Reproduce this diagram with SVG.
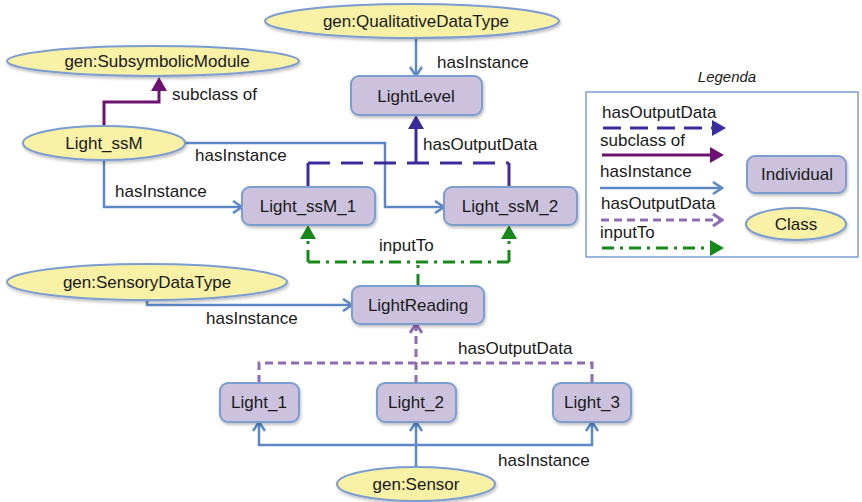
<svg xmlns="http://www.w3.org/2000/svg" width="862" height="502" viewBox="0 0 862 502">
<style>
text{font-family:"Liberation Sans",Arial,sans-serif;font-size:17px;fill:#1a1a1a}
.c{text-anchor:middle}
.ind{fill:#ccc2de;stroke:#7b9dd0;stroke-width:2}
.cls{fill:#f8f1a6;stroke:#7b9dd0;stroke-width:2}
.blue{fill:none;stroke:#5b87c5;stroke-width:2.5}
.sub{fill:none;stroke:#6d1270;stroke-width:3}
.out{fill:none;stroke:#3a2c9c;stroke-width:3}
.lp{fill:none;stroke:#8d6cb4;stroke-width:3;stroke-dasharray:8 5}
.grn{fill:none;stroke:#17891a;stroke-width:3;stroke-dasharray:12 6 3 6}
</style>
<defs>
<filter id="sh" x="-10%" y="-20%" width="130%" height="150%">
<feDropShadow dx="1" dy="2" stdDeviation="1.5" flood-color="#000" flood-opacity="0.25"/>
</filter>
<marker id="chev" viewBox="0 0 12 14" markerWidth="12" markerHeight="14" refX="10" refY="7" orient="auto" markerUnits="userSpaceOnUse">
<path d="M1,1 L10,7 L1,13" fill="none" stroke="#5b87c5" stroke-width="2.5"/>
</marker>
<marker id="chevp" viewBox="0 0 12 14" markerWidth="12" markerHeight="14" refX="10" refY="7" orient="auto" markerUnits="userSpaceOnUse">
<path d="M1,1 L10,7 L1,13" fill="none" stroke="#8d6cb4" stroke-width="3"/>
</marker>
<marker id="tsub" viewBox="0 0 14 16" markerWidth="14" markerHeight="16" refX="3" refY="8" orient="auto" markerUnits="userSpaceOnUse">
<path d="M0,0 L14,8 L0,16 Z" fill="#6d1270"/>
</marker>
<marker id="tout" viewBox="0 0 14 16" markerWidth="14" markerHeight="16" refX="3" refY="8" orient="auto" markerUnits="userSpaceOnUse">
<path d="M0,0 L14,8 L0,16 Z" fill="#3a2c9c"/>
</marker>
<marker id="tgrn" viewBox="0 0 14 16" markerWidth="14" markerHeight="16" refX="3" refY="8" orient="auto" markerUnits="userSpaceOnUse">
<path d="M0,0 L14,8 L0,16 Z" fill="#17891a"/>
</marker>
</defs>

<g id="legend">
<rect x="586" y="92" width="272" height="165" fill="#fff" stroke="#7b9dd0" stroke-width="1.5"/>
<text x="727" y="82" class="c" style="font-style:italic;font-size:15px">Legenda</text>
<text x="602" y="118">hasOutputData</text>
<path d="M603,128 L715,128" class="out" style="stroke-dasharray:18 9" marker-end="url(#tout)"/>
<text x="600" y="146">subclass of</text>
<path d="M602,155 L713,155" class="sub" marker-end="url(#tsub)"/>
<text x="600" y="177">hasInstance</text>
<path d="M600,188 L722,188" class="blue" marker-end="url(#chev)"/>
<text x="601" y="209">hasOutputData</text>
<path d="M601,220 L722,220" class="lp" marker-end="url(#chevp)"/>
<text x="600" y="238">inputTo</text>
<path d="M602,248 L713,248" class="grn" marker-end="url(#tgrn)"/>
<g id="legend-individual" filter="url(#sh)"><rect x="747" y="156" width="99" height="37" rx="8" class="ind"/></g>
<text x="797" y="180" class="c">Individual</text>
<g id="legend-class" filter="url(#sh)"><ellipse cx="796" cy="224" rx="50" ry="16" class="cls"/></g>
<text x="796" y="230" class="c">Class</text>
</g>

<g id="connectors">
<path d="M416,38 L416,76" class="blue" marker-end="url(#chev)"/>
<path d="M104,160 L104,207 L242,207" class="blue" marker-end="url(#chev)"/>
<path d="M185,143 L385,143 L385,207 L444,207" class="blue" marker-end="url(#chev)"/>
<path d="M147,300 L147,305 L352,305" class="blue" marker-end="url(#chev)"/>
<path d="M416,467 L416,422" class="blue" marker-end="url(#chev)"/>
<path d="M416,445 L259,445 L259,422" class="blue" marker-end="url(#chev)"/>
<path d="M416,445 L592,445 L592,422" class="blue" marker-end="url(#chev)"/>
<path d="M104,126 L104,102 L159,102 L159,88" class="sub" marker-end="url(#tsub)"/>
<path d="M308,187 L308,163" class="out"/>
<path d="M509,187 L509,163" class="out"/>
<path d="M308,163 L509,163" class="out" style="stroke-dasharray:22 11"/>
<path d="M416,163 L416,126" class="out" marker-end="url(#tout)"/>
<path d="M418,286 L418,262" class="grn"/>
<path d="M308,262 L509,262" class="grn"/>
<path d="M308,262 L308,236" class="grn" marker-end="url(#tgrn)"/>
<path d="M509,262 L509,236" class="grn" marker-end="url(#tgrn)"/>
<path d="M259,383 L259,363 L592,363 L592,383" class="lp"/>
<path d="M416,383 L416,324" class="lp" marker-end="url(#chevp)"/>
<text x="437" y="68">hasInstance</text>
<text x="172" y="100">subclass of</text>
<text x="195" y="161">hasInstance</text>
<text x="115" y="197">hasInstance</text>
<text x="423" y="150">hasOutputData</text>
<text x="379" y="251">inputTo</text>
<text x="206" y="324">hasInstance</text>
<text x="458" y="354">hasOutputData</text>
<text x="498" y="466">hasInstance</text>
</g>

<g id="gen-QualitativeDataType"><ellipse cx="412" cy="21" rx="147" ry="17" class="cls" filter="url(#sh)"/><text x="416" y="27" class="c">gen:QualitativeDataType</text></g>
<g id="gen-SubsymbolicModule"><ellipse cx="153" cy="61" rx="146" ry="15" class="cls" filter="url(#sh)"/><text x="157" y="67" class="c">gen:SubsymbolicModule</text></g>
<g id="Light_ssM"><ellipse cx="104" cy="143" rx="81" ry="17" class="cls" filter="url(#sh)"/><text x="104" y="149" class="c">Light_ssM</text></g>
<g id="LightLevel"><rect x="351" y="76" width="131" height="39" rx="8" class="ind" filter="url(#sh)"/><text x="416" y="102" class="c">LightLevel</text></g>
<g id="Light_ssM_1"><rect x="242" y="187" width="133" height="38" rx="8" class="ind" filter="url(#sh)"/><text x="308" y="212" class="c">Light_ssM_1</text></g>
<g id="Light_ssM_2"><rect x="444" y="187" width="133" height="38" rx="8" class="ind" filter="url(#sh)"/><text x="510" y="212" class="c">Light_ssM_2</text></g>
<g id="gen-SensoryDataType"><ellipse cx="147" cy="282" rx="140" ry="18" class="cls" filter="url(#sh)"/><text x="147" y="288" class="c">gen:SensoryDataType</text></g>
<g id="LightReading"><rect x="352" y="286" width="132" height="38" rx="8" class="ind" filter="url(#sh)"/><text x="418" y="311" class="c">LightReading</text></g>
<g id="Light_1"><rect x="220" y="383" width="79" height="39" rx="8" class="ind" filter="url(#sh)"/><text x="259" y="408" class="c">Light_1</text></g>
<g id="Light_2"><rect x="377" y="383" width="79" height="39" rx="8" class="ind" filter="url(#sh)"/><text x="416" y="408" class="c">Light_2</text></g>
<g id="Light_3"><rect x="553" y="383" width="78" height="39" rx="8" class="ind" filter="url(#sh)"/><text x="592" y="408" class="c">Light_3</text></g>
<g id="gen-Sensor"><ellipse cx="416" cy="484" rx="79" ry="17" class="cls" filter="url(#sh)"/><text x="416" y="490" class="c">gen:Sensor</text></g>
</svg>
